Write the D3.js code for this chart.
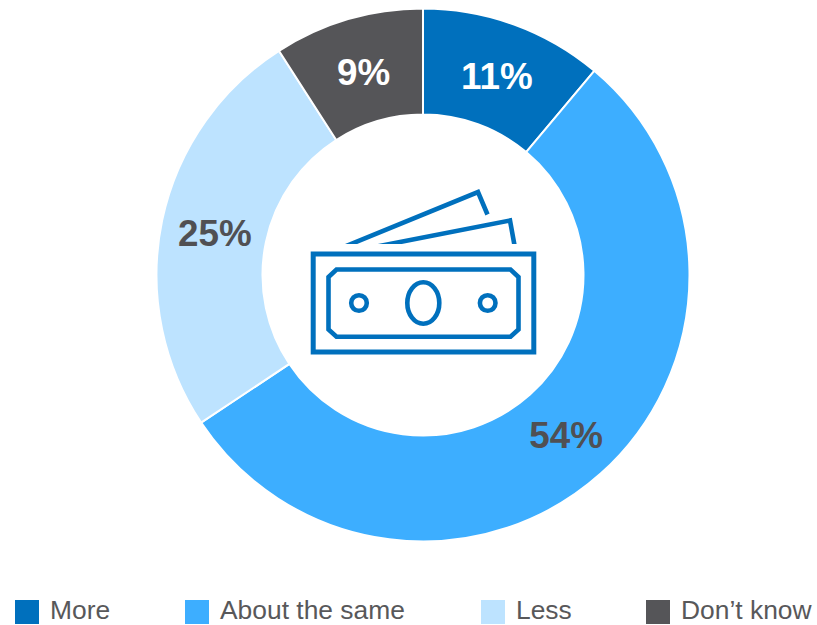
<!DOCTYPE html>
<html>
<head>
<meta charset="utf-8">
<script src="https://cdn.jsdelivr.net/npm/d3@7"></script>
<style>
  html, body { margin: 0; padding: 0; background: #fff; }
  svg { display: block; }
  text { font-family: "Liberation Sans", Arial, sans-serif; }
</style>
</head>
<body>
<svg id="chart" width="817" height="625"></svg>
<script>
const categories = ["More", "About the same", "Less", "Don\u2019t know"];
const values = [11, 54, 25, 9];
const colors = ["#0070BD", "#3DAEFF", "#BDE3FF", "#555558"];
const labelColors = ["#ffffff", "#505053", "#505053", "#ffffff"];
const legendX = [15, 185, 481, 646];

const svg = d3.select("#chart");
const cx = 423, cy = 275, outer = 266.5, inner = 160.5;

const pie = d3.pie().sort(null);
const arc = d3.arc().innerRadius(inner).outerRadius(outer);
const ring = svg.append("g").attr("transform", `translate(${cx},${cy})`);
const slices = pie(values);

ring.selectAll("path")
  .data(slices)
  .join("path")
  .attr("d", arc)
  .attr("fill", (d, i) => colors[i])
  .attr("stroke", "#fff")
  .attr("stroke-width", 2);

ring.selectAll("text")
  .data(slices)
  .join("text")
  .attr("transform", d => {
    const [x, y] = arc.centroid(d);
    return `translate(${x + 0.8},${y})`;
  })
  .attr("text-anchor", "middle")
  .attr("dy", "0.39em")
  .attr("font-size", 36.8)
  .attr("font-weight", "bold")
  .attr("fill", (d, i) => labelColors[i])
  .text(d => d.value + "%");

// Banknote icon in the centre of the ring
svg.append("clipPath")
  .attr("id", "note-cut")
  .append("rect")
  .attr("x", 300).attr("y", 170).attr("width", 250).attr("height", 74);

const icon = svg.append("g")
  .attr("fill", "none")
  .attr("stroke", "#0070BD");

icon.append("rect")
  .attr("x", 313.2).attr("y", 254).attr("width", 220.6).attr("height", 98)
  .attr("stroke-width", 5);

icon.append("path")
  .attr("stroke-width", 4.6)
  .attr("d", "M336.5 269.5H510.5L518.5 277V329.5L510.5 336.8H336.5L328.5 329.5V277Z");

icon.append("ellipse")
  .attr("cx", 423.3).attr("cy", 303).attr("rx", 16).attr("ry", 20.8)
  .attr("stroke-width", 4.6);

[359, 487.7].forEach(x => icon.append("circle")
  .attr("cx", x).attr("cy", 303).attr("r", 7.8)
  .attr("stroke-width", 4.6));

// Two more notes fanned out behind the front one, cut flat above its top edge
const backNotes = icon.append("g").attr("clip-path", "url(#note-cut)");
backNotes.append("path")
  .attr("stroke-width", 4.6)
  .attr("d", "M345 246.5L478 192L487.5 214.5");
backNotes.append("path")
  .attr("stroke-width", 4.6)
  .attr("d", "M377 246.5L510 220.5L515 248");

// Legend row along the bottom edge
const legend = svg.selectAll("g.key")
  .data(categories)
  .join("g")
  .attr("class", "key")
  .attr("transform", (d, i) => `translate(${legendX[i]},600)`);

legend.append("rect")
  .attr("width", 24).attr("height", 24)
  .attr("fill", (d, i) => colors[i]);

legend.append("text")
  .attr("x", 35).attr("y", 19.4)
  .attr("font-size", 26.4)
  .attr("fill", "#58585A")
  .text(d => d);
</script>
</body>
</html>
